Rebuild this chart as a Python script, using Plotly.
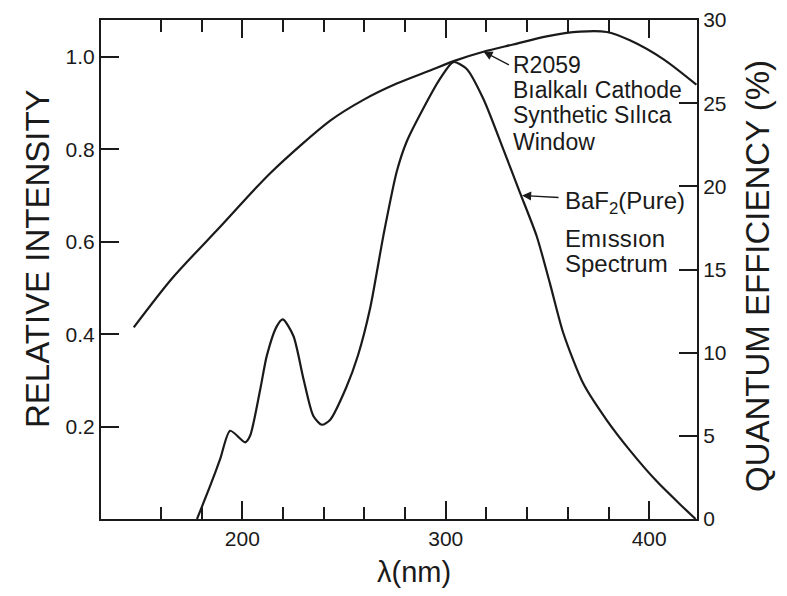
import plotly.graph_objects as go

# BaF2 (pure) emission spectrum, relative intensity (left axis)
emis_nm = [177.7, 184.2, 189.1, 194.0, 201.4, 203.8, 208.8, 212.0, 216.9, 219.9,
           225.1, 230.1, 234.9, 239.1, 243.2, 251.0, 256.9, 262.8, 269.4, 275.9,
           280.8, 289.0, 297.2, 303.7, 310.3, 318.5, 328.3, 336.5, 344.7, 351.2,
           357.8, 367.6, 379.1, 390.6, 403.6, 415.1, 422.8]
emis_val = [0.0, 0.072, 0.130, 0.191, 0.166, 0.180, 0.281, 0.353, 0.417, 0.432,
            0.396, 0.302, 0.223, 0.204, 0.215, 0.284, 0.355, 0.456, 0.615, 0.752,
            0.817, 0.889, 0.953, 0.989, 0.974, 0.909, 0.800, 0.706, 0.612, 0.510,
            0.402, 0.293, 0.214, 0.148, 0.082, 0.032, 0.0]

# R2059 bialkali cathode quantum efficiency, % (right axis)
qe_nm = [146.6, 165.4, 189.1, 213.7, 243.2, 259.5, 275.9, 292.3, 304.6, 318.5,
         333.2, 349.6, 366.0, 379.1, 390.5, 406.9, 423.2]
qe_val = [11.52, 14.46, 17.57, 20.79, 23.95, 25.20, 26.18, 26.97, 27.56, 28.09,
          28.53, 29.02, 29.30, 29.28, 28.78, 27.65, 26.11]

x_ticks = [200, 300, 400]
x_minor = [160, 180, 220, 240, 260, 280, 320, 340, 360, 380]
left_ticks = [0.2, 0.4, 0.6, 0.8, 1.0]
left_labels = ["0.2", "0.4", "0.6", "0.8", "1.0"]
right_ticks = [0, 5, 10, 15, 20, 25, 30]

FONT = "Liberation Sans, Arial, Helvetica, sans-serif"
INK = "#1a1a1a"

# page body has an 8px margin; figure is sized so the plot lands where the reference has it
W, H = 779, 588
L, T, R, B = 93, 12, 90, 77
PW, PH = W - L - R, H - T - B
OFF = 8


def px(xpage):
    return (xpage - OFF - L) / PW


def py(ypage):
    return (H - B - (ypage - OFF)) / PH


fig = go.Figure()
fig.add_trace(go.Scatter(x=emis_nm, y=emis_val, mode="lines",
                         line=dict(color=INK, width=2.2, shape="spline", smoothing=0.7),
                         yaxis="y", showlegend=False, hoverinfo="skip"))
fig.add_trace(go.Scatter(x=qe_nm, y=qe_val, mode="lines",
                         line=dict(color=INK, width=2.2, shape="spline", smoothing=0.8),
                         yaxis="y2", showlegend=False, hoverinfo="skip"))

fig.update_layout(
    width=W, height=H,
    margin=dict(l=L, r=R, t=T, b=B),
    paper_bgcolor="white", plot_bgcolor="white",
    font=dict(family=FONT, color=INK),
    xaxis=dict(range=[130.5, 423.5], tickmode="array", tickvals=x_ticks,
               ticks="inside", ticklen=18, tickwidth=1.5, tickcolor=INK,
               showline=True, linecolor=INK, linewidth=2, mirror="ticks",
               showgrid=False, zeroline=False, automargin=False,
               tickfont=dict(size=21, color=INK),
               minor=dict(tickmode="array", tickvals=x_minor, ticks="inside",
                          ticklen=12, tickwidth=1.5, tickcolor=INK, showgrid=False)),
    yaxis=dict(range=[0, 1.08], tickmode="array", tickvals=left_ticks, ticktext=left_labels,
               ticks="inside", ticklen=18, tickwidth=1.5, tickcolor=INK,
               showline=True, linecolor=INK, linewidth=2, mirror=True,
               showgrid=False, zeroline=False, automargin=False,
               tickfont=dict(size=21, color=INK)),
    yaxis2=dict(range=[0, 30], overlaying="y", side="right", tickmode="array",
                tickvals=right_ticks, ticks="inside", ticklen=18, tickwidth=1.5,
                tickcolor=INK, showline=True, linecolor=INK, linewidth=2,
                showgrid=False, zeroline=False, automargin=False,
                tickfont=dict(size=21, color=INK)),
)

ann = []
# axis titles
ann.append(dict(text="RELATIVE INTENSITY", xref="paper", yref="paper",
                x=px(37), y=py(259), textangle=-90,
                showarrow=False, font=dict(size=33, color=INK),
                xanchor="center", yanchor="middle"))
ann.append(dict(text="QUANTUM EFFICIENCY (%)", xref="paper", yref="paper",
                x=px(757), y=py(276), textangle=-90,
                showarrow=False, font=dict(size=33, color=INK),
                xanchor="center", yanchor="middle"))
ann.append(dict(text="λ(nm)", xref="paper", yref="paper",
                x=px(414), y=py(572),
                showarrow=False, font=dict(size=29, color=INK),
                xanchor="center", yanchor="middle"))

# curve labels
r_lines = ["R2059", "Bıalkalı Cathode", "Synthetic Sılıca", "Window"]
r_y = [65, 90, 115, 142]
for t, yy in zip(r_lines, r_y):
    ann.append(dict(text=t, xref="paper", yref="paper",
                    x=px(511), y=py(yy), showarrow=False,
                    font=dict(size=23, color=INK), xanchor="left", yanchor="middle"))
b_lines = ["BaF<sub>2</sub>(Pure)", "Emıssıon", "Spectrum"]
b_y = [202, 238, 263]
for t, yy in zip(b_lines, b_y):
    ann.append(dict(text=t, xref="paper", yref="paper",
                    x=px(563), y=py(yy), showarrow=False,
                    font=dict(size=24, color=INK), xanchor="left", yanchor="middle"))

# arrows pointing to the two curves
ann.append(dict(x=318.5, y=28.1, xref="x", yref="y2", ax=27, ay=14,
                text="", showarrow=True, arrowhead=2, arrowsize=1.4,
                arrowwidth=1.3, arrowcolor=INK))
ann.append(dict(x=337.5, y=0.70, xref="x", yref="y", ax=38, ay=2,
                text="", showarrow=True, arrowhead=2, arrowsize=1.4,
                arrowwidth=1.3, arrowcolor=INK))
fig.update_layout(annotations=ann)

fig.write_html("out.html")
